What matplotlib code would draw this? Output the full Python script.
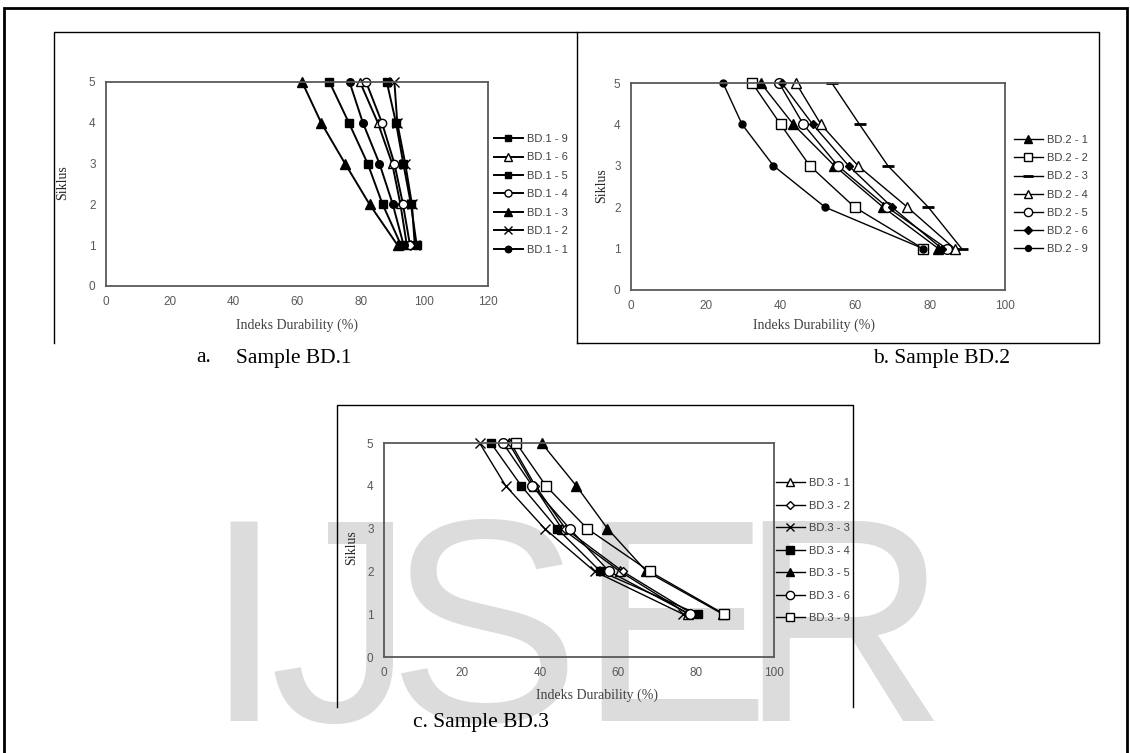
import matplotlib
matplotlib.use("Agg")
import matplotlib.pyplot as plt
from matplotlib.patches import Rectangle
from matplotlib.lines import Line2D

W, H = 1130, 753

siklus = [1, 2, 3, 4, 5]

# panel a - Sample BD.1 (durability index per cycle 1..5)
labels_a = ["BD.1 - 9", "BD.1 - 6", "BD.1 - 5", "BD.1 - 4", "BD.1 - 3", "BD.1 - 2", "BD.1 - 1"]
bd1_9 = [92.7, 86.9, 82.2, 76.3, 70.2]
bd1_6 = [94.5, 92.5, 89.9, 85.4, 79.8]
bd1_5 = [97.6, 95.8, 93.4, 91.1, 88.2]
bd1_4 = [95.5, 93.3, 90.6, 86.7, 81.7]
bd1_3 = [91.6, 82.8, 75.1, 67.6, 61.6]
bd1_2 = [97.0, 96.1, 94.0, 91.5, 90.6]
bd1_1 = [93.5, 90.1, 85.9, 80.7, 76.5]

# panel b - Sample BD.2
labels_b = ["BD.2 - 1", "BD.2 - 2", "BD.2 - 3", "BD.2 - 4", "BD.2 - 5", "BD.2 - 6", "BD.2 - 9"]
bd2_1 = [82.2, 67.4, 54.4, 43.4, 34.7]
bd2_2 = [78.1, 59.8, 47.8, 40.0, 32.4]
bd2_3 = [88.4, 79.5, 68.7, 61.1, 53.7]
bd2_4 = [86.5, 73.9, 60.7, 50.8, 44.1]
bd2_5 = [84.4, 68.5, 55.3, 46.1, 39.6]
bd2_6 = [83.1, 69.8, 58.2, 48.6, 40.3]
bd2_9 = [78.1, 51.9, 38.1, 29.7, 24.6]

# panel c - Sample BD.3
labels_c = ["BD.3 - 1", "BD.3 - 2", "BD.3 - 3", "BD.3 - 4", "BD.3 - 5", "BD.3 - 6", "BD.3 - 9"]
bd3_1 = [78.0, 60.5, 45.6, 38.4, 32.0]
bd3_2 = [79.2, 61.2, 46.5, 38.8, 32.5]
bd3_3 = [76.7, 54.0, 41.2, 31.2, 24.5]
bd3_4 = [80.5, 55.5, 44.4, 35.2, 27.4]
bd3_5 = [86.9, 67.3, 57.3, 49.3, 40.4]
bd3_6 = [78.4, 57.7, 47.6, 38.0, 30.5]
bd3_9 = [87.3, 68.1, 52.1, 41.5, 33.9]

FILLED = "black"
OPEN = "white"
styles_a = [("s", FILLED, 5.5), ("^", OPEN, 6), ("s", FILLED, 5.5), ("o", OPEN, 6),
            ("^", FILLED, 6.5), ("x", FILLED, 6.5), ("o", FILLED, 5.5)]
styles_b = [("^", FILLED, 6.5), ("s", OPEN, 7.5), ("_", FILLED, 9), ("^", OPEN, 7),
            ("o", OPEN, 7), ("D", FILLED, 4.5), ("o", FILLED, 5)]
styles_c = [("^", OPEN, 6.5), ("D", OPEN, 4.5), ("x", FILLED, 7), ("s", FILLED, 6),
            ("^", FILLED, 7), ("o", OPEN, 7), ("s", OPEN, 7.5)]

serif = "Liberation Serif"
sans = "Liberation Sans"
grey = "#595959"


def fx(px):
    return px / W


def fy(py):
    return 1 - py / H


fig = plt.figure(figsize=(W / 100, H / 100), dpi=100)

# watermark letters behind everything
for ch, cx in zip("IJSER", [244, 342, 484, 674, 843]):
    fig.text(fx(cx), fy(721), ch, ha="center", va="baseline", fontsize=208,
             color="#dcdcdc", family=sans, zorder=-10)

# page frame and image boxes
fig.add_artist(Rectangle((fx(4), fy(790)), fx(1123), 782 / H,
                         transform=fig.transFigure, fill=False, lw=2, ec="black", zorder=-5))
for xs, ys in [([54, 54, 577, 577], [343, 32, 32, 343]),
               ([577, 1099, 1099, 577], [32, 32, 343, 343]),
               ([337, 337, 853, 853], [707, 405, 405, 707])]:
    fig.add_artist(Line2D([fx(v) for v in xs], [fy(v) for v in ys],
                          transform=fig.transFigure, color="black", lw=1.0, zorder=-5))


def panel(box, xmax, series, labels, styles, xlabel_pos, ylabel_pos, leg_pos, spacing,
          lw=1.0):
    l, t, r, b = box
    ax = fig.add_axes([fx(l), fy(b), fx(r - l), (b - t) / H])
    ax.set_facecolor("none")
    ax.set_zorder(2)
    for x, lab, (m, fc, ms) in zip(series, labels, styles):
        ax.plot(x, siklus, color="black", lw=lw, marker=m, markersize=ms,
                markerfacecolor=fc, markeredgecolor="black",
                markeredgewidth=2 if m == "_" else 1.0, label=lab, clip_on=False)
    ax.set_xlim(0, xmax)
    ax.set_ylim(0, 5)
    ax.set_xticks(range(0, xmax + 1, 20))
    ax.set_yticks(range(0, 6))
    ax.tick_params(length=0, labelsize=8.5, labelcolor=grey, pad=7.5)
    for lbl in ax.get_xticklabels() + ax.get_yticklabels():
        lbl.set_family(sans)
    for s in ax.spines.values():
        s.set_color(grey)
        s.set_linewidth(1.3)
    fig.text(fx(xlabel_pos[0]), fy(xlabel_pos[1]), "Indeks Durability (%)", ha="center",
             va="center", fontsize=10, family=serif, color="#404040")
    fig.text(fx(ylabel_pos[0]), fy(ylabel_pos[1]), "Siklus", ha="center", va="center",
             rotation=90, fontsize=10, family=serif, color="#262626")
    ax.legend(loc="upper left", bbox_to_anchor=(fx(leg_pos[0]), fy(leg_pos[1])),
              bbox_transform=fig.transFigure, frameon=False, prop={"family": sans, "size": 8},
              labelcolor="#404040", handlelength=2.6, handletextpad=0.35,
              labelspacing=spacing, borderpad=0, borderaxespad=0, markerscale=0.85)
    return ax


panel((106, 82, 488, 286), 120, [bd1_9, bd1_6, bd1_5, bd1_4, bd1_3, bd1_2, bd1_1],
      labels_a, styles_a, (297, 325), (63, 183), (494, 134), 0.76, lw=1.4)
panel((631, 83, 1005, 290), 100, [bd2_1, bd2_2, bd2_3, bd2_4, bd2_5, bd2_6, bd2_9],
      labels_b, styles_b, (814, 325), (602, 186), (1014, 135), 0.74)
panel((384, 443, 774, 657), 100, [bd3_1, bd3_2, bd3_3, bd3_4, bd3_5, bd3_6, bd3_9],
      labels_c, styles_c, (597, 695), (352, 548), (776, 478), 1.13)

# captions
fig.text(fx(196), fy(358), "a.", ha="left", va="center", fontsize=15.5, family=serif)
fig.text(fx(236), fy(358), "Sample BD.1", ha="left", va="center", fontsize=15.5, family=serif)
fig.text(fx(873), fy(358), "b. Sample BD.2", ha="left", va="center", fontsize=15.5, family=serif)
fig.text(fx(413), fy(722), "c. Sample BD.3", ha="left", va="center", fontsize=15.5, family=serif)

fig.savefig("out.png", dpi=100)
